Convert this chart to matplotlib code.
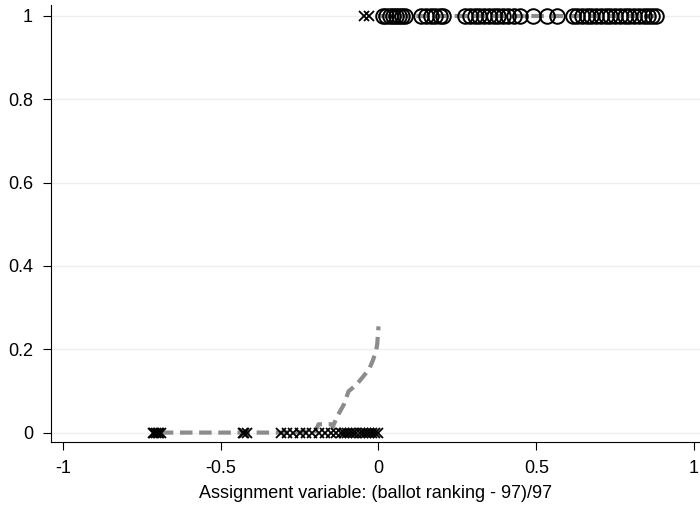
import matplotlib
matplotlib.use("Agg")
import matplotlib.pyplot as plt

plt.rcParams["font.family"] = ["Liberation Sans", "DejaVu Sans"]

# Treated observations (outcome = 1), hollow circles
circ_x = [0.015, 0.025, 0.035, 0.045, 0.055, 0.065, 0.075, 0.085,
          0.135, 0.15, 0.165, 0.18, 0.195, 0.205,
          0.275, 0.29, 0.305, 0.32, 0.335, 0.35, 0.365, 0.38, 0.395,
          0.41, 0.43, 0.45, 0.49, 0.535, 0.565,
          0.615, 0.63, 0.645, 0.66, 0.675, 0.69, 0.705, 0.72, 0.735,
          0.75, 0.765, 0.78, 0.795, 0.81, 0.825, 0.84, 0.855, 0.868, 0.878]
circ_y = [1] * len(circ_x)

# Crosses at outcome = 1
cross1_x = [-0.047, -0.03]
cross1_y = [1, 1]

# Crosses at outcome = 0
cross0_x = [-0.716, -0.71, -0.705, -0.70, -0.695, -0.69,
            -0.43, -0.425, -0.418,
            -0.31, -0.29, -0.27, -0.25, -0.23, -0.21, -0.19, -0.17, -0.15,
            -0.135, -0.12, -0.11, -0.10, -0.09, -0.08, -0.07, -0.06, -0.05,
            -0.04, -0.03, -0.02, -0.01, 0.0]
cross0_y = [0] * len(cross0_x)

# Fitted probability left of cutoff (gray dashed)
fit_x = [-0.69, -0.40, -0.30, -0.20, -0.19, -0.15, -0.145, -0.13, -0.11, -0.095,
         -0.07, -0.048, -0.03, -0.019, -0.008, -0.004, 0.0]
fit_y = [0.0, 0.0, 0.0, 0.003, 0.02, 0.02, 0.014, 0.04, 0.067, 0.099,
         0.115, 0.135, 0.152, 0.171, 0.195, 0.212, 0.255]

# Fitted probability right of cutoff
fit2_x = [0.0, 0.878]
fit2_y = [1.0, 1.0]

fig = plt.figure(figsize=(7, 5.09), dpi=100)
ax = fig.add_axes([51 / 700, 67 / 509, 649 / 700, 437 / 509])

ax.plot(fit_x, fit_y, color="#8c8c8c", linestyle=(0, (3, 1.6)), linewidth=3,
        zorder=2)
ax.plot(fit2_x, fit2_y, color="#8c8c8c", linestyle=(0, (3, 1.6)), linewidth=3,
        zorder=2)
ax.plot(cross0_x, cross0_y, linestyle="none", marker="x", markersize=7,
        markeredgewidth=1.3, color="black", zorder=3)
ax.plot(cross1_x, cross1_y, linestyle="none", marker="x", markersize=7,
        markeredgewidth=1.3, color="black", zorder=3)
ax.plot(circ_x, circ_y, linestyle="none", marker="o", markersize=10.5,
        markerfacecolor="none", markeredgewidth=1.4, markeredgecolor="black",
        zorder=3)

ax.set_xlim(-1.038, 1.019)
ax.set_ylim(-0.0226, 1.0264)
ax.set_xticks([-1, -0.5, 0, 0.5, 1])
ax.set_xticklabels(["-1", "-0.5", "0", "0.5", "1"])
ax.set_yticks([0, 0.2, 0.4, 0.6, 0.8, 1])
ax.set_yticklabels(["0", "0.2", "0.4", "0.6", "0.8", "1"])
ax.yaxis.grid(True, color="#eeeeee", linewidth=1)
ax.set_axisbelow(True)
ax.spines["top"].set_visible(False)
ax.spines["right"].set_visible(False)
ax.tick_params(direction="out", length=6, width=0.8, labelsize=13, pad=7)
ax.set_xlabel("Assignment variable: (ballot ranking - 97)/97", fontsize=13,
              labelpad=6)

plt.savefig("out.png", dpi=100)
